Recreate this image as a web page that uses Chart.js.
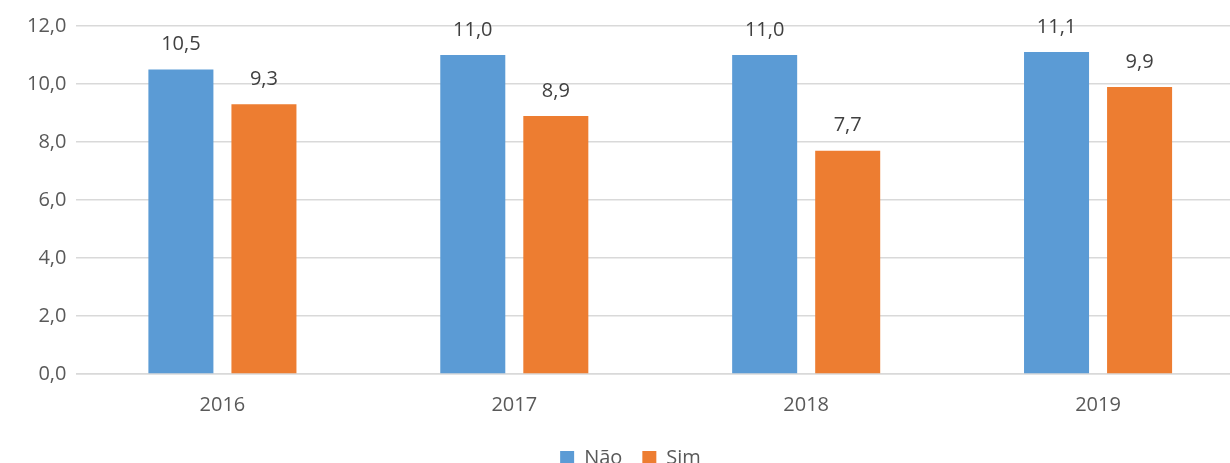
<!DOCTYPE html>
<html>
<head>
<meta charset="utf-8">
<script src="https://cdn.jsdelivr.net/npm/chart.js@4"></script>
<style>
  html, body { margin: 0; padding: 0; background: #fff; overflow: hidden; }
  #wrap { width: 1244px; height: 478px; }
</style>
</head>
<body>
<div id="wrap"><canvas id="chart"></canvas></div>
<script>
const years = ['2016', '2017', '2018', '2019'];
const nao = [10.5, 11.0, 11.0, 11.1];
const sim = [9.3, 8.9, 7.7, 9.9];

const fmt = v => v.toFixed(1).replace('.', ',');

// rótulos de valor acima das barras
const valueLabels = {
    id: 'valueLabels',
    afterDatasetsDraw(chart) {
        const ctx = chart.ctx;
        ctx.save();
        ctx.font = '20px "Open Sans", sans-serif';
        ctx.fillStyle = '#404040';
        ctx.textAlign = 'center';
        ctx.textBaseline = 'middle';
        chart.data.datasets.forEach((ds, i) => {
            chart.getDatasetMeta(i).data.forEach((bar, j) => {
                ctx.fillText(fmt(ds.data[j]), bar.x, bar.y - 25);
            });
        });
        ctx.restore();
    }
};

new Chart(document.querySelector('#chart'), {
    type: 'bar',
    data: {
        labels: years,
        datasets: [
            { label: 'Não', data: nao, backgroundColor: '#5B9BD5', categoryPercentage: 0.569, barPercentage: 0.783 },
            { label: 'Sim', data: sim, backgroundColor: '#ED7D31', categoryPercentage: 0.569, barPercentage: 0.783 }
        ]
    },
    options: {
        responsive: true,
        maintainAspectRatio: false,
        animation: false,
        layout: { padding: { top: 26, left: 17, right: 0, bottom: 0 } },
        scales: {
            x: {
                grid: { display: false },
                border: { color: '#d9d9d9', width: 1.5 },
                ticks: { color: '#595959', font: { size: 20, family: '"Open Sans", sans-serif' }, padding: 11 }
            },
            y: {
                min: 0,
                max: 12,
                ticks: {
                    stepSize: 2,
                    color: '#595959',
                    padding: 10,
                    font: { size: 20, family: '"Open Sans", sans-serif' },
                    callback: v => fmt(v)
                },
                grid: { color: '#d9d9d9', lineWidth: 1.5, drawTicks: false },
                border: { display: false }
            }
        },
        plugins: {
            legend: {
                position: 'bottom',
                labels: {
                    color: '#595959',
                    boxWidth: 14,
                    boxHeight: 14,
                    padding: 20,
                    font: { size: 20, family: '"Open Sans", sans-serif' }
                }
            },
            tooltip: { enabled: false }
        }
    },
    plugins: [valueLabels]
});
</script>
</body>
</html>
